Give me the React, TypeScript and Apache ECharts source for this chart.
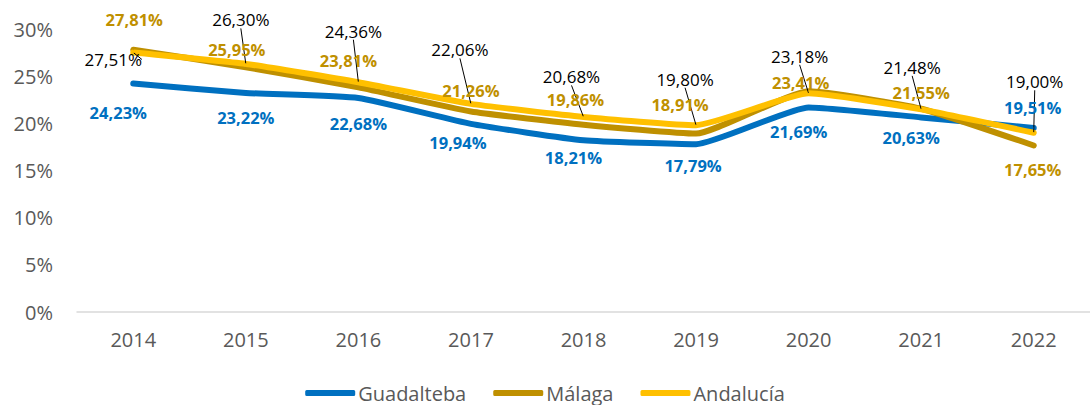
import React, { useEffect, useRef } from "react";
import * as echarts from "echarts";

const years = ["2014", "2015", "2016", "2017", "2018", "2019", "2020", "2021", "2022"];
const guadalteba = [24.23, 23.22, 22.68, 19.94, 18.21, 17.79, 21.69, 20.63, 19.51];
const malaga = [27.81, 25.95, 23.81, 21.26, 19.86, 18.91, 23.41, 21.55, 17.65];
const andalucia = [27.51, 26.3, 24.36, 22.06, 20.68, 19.8, 23.18, 21.48, 19.0];

// label offsets (label centre relative to point), layout only
const offGuad: number[][] = [[-15, 29], [0, 25], [0, 25], [-13, 19], [-10, 17], [-3, 21], [-10, 24], [-10, 20], [-1, -20]];
const offMal: number[][] = [[1, -30], [-9, -18], [-10, -27], [0, -21], [-8, -25], [-16, -29], [-8, -9], [0, -16], [-1, 24]];
const offAnd: number[][] = [[-20, 7], [-5, -44], [-5, -51], [-11, -54], [-12, -40], [-11, -46], [-9, -37], [-9, -42], [1, -51]];

const FONT = "Open Sans";
const fmt = (p: any) => Number(p.value).toFixed(2).replace(".", ",") + "%";

export default function App() {
  const ref = useRef<HTMLDivElement>(null);
  useEffect(() => {
    if (!ref.current) return;
    const chart = echarts.init(ref.current, undefined, { renderer: "svg" });
    const mk = (
      name: string,
      data: number[],
      color: string,
      labelColor: string,
      bold: boolean,
      offs: number[][],
      line: boolean
    ) => ({
      name,
      type: "line",
      data,
      smooth: 0.15,
      symbol: "circle",
      symbolSize: 1,
      showSymbol: true,
      itemStyle: { color },
      lineStyle: { width: 6, color, cap: "round", join: "round" },
      label: {
        show: true,
        position: "inside",
        formatter: fmt,
        color: labelColor,
        fontFamily: FONT,
        fontSize: bold ? 16.5 : 17,
        fontWeight: bold ? "bold" : "normal",
      },
      labelLine: { show: line, lineStyle: { color: "#000", width: 1 } },
      labelLayout: (p: any) => ({ dx: offs[p.dataIndex][0], dy: offs[p.dataIndex][1] }),
      emphasis: { disabled: true },
    });
    chart.setOption({
      animation: false,
      grid: { left: 77, right: -19, top: 29, bottom: 93 },
      xAxis: {
        type: "category",
        data: years,
        axisLine: { lineStyle: { color: "#d9d9d9", width: 1.5 } },
        axisTick: { show: false },
        axisLabel: { color: "#595959", fontFamily: FONT, fontSize: 20, margin: 17 },
      },
      yAxis: {
        type: "value",
        min: 0,
        max: 30,
        interval: 5,
        splitLine: { show: false },
        axisLine: { show: false },
        axisTick: { show: false },
        axisLabel: { color: "#595959", fontFamily: FONT, fontSize: 20, margin: 24, formatter: "{value}%" },
      },
      legend: {
        bottom: 0,
        left: "center",
        icon: "roundRect",
        itemWidth: 50,
        itemHeight: 6,
        itemGap: 27,
        padding: [2, 5, 2, 5],
        textStyle: { color: "#595959", fontFamily: FONT, fontSize: 20, padding: [0, 0, 0, -2] },
        data: ["Guadalteba", "Málaga", "Andalucía"],
      },
      series: [
        mk("Guadalteba", guadalteba, "#0070C0", "#0070C0", true, offGuad, false),
        mk("Málaga", malaga, "#BF9000", "#BF9000", true, offMal, false),
        mk("Andalucía", andalucia, "#FFC000", "#000000", false, offAnd, true),
      ],
    });
    return () => chart.dispose();
  }, []);
  return <div ref={ref} style={{ position: "absolute", left: 0, top: 0, width: 1090, height: 405 }} />;
}
